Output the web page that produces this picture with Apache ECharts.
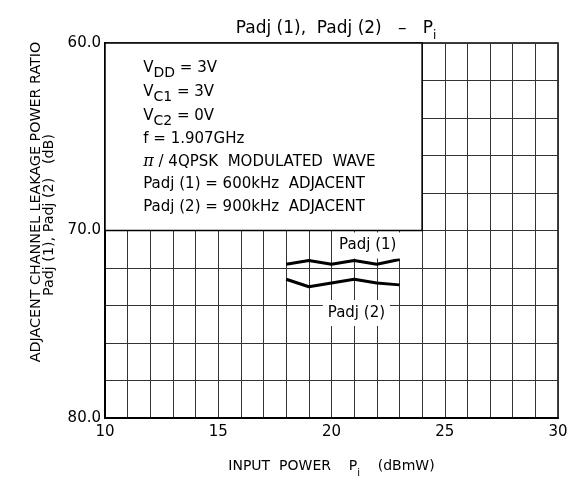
<!DOCTYPE html>
<html>
<head>
<meta charset="utf-8">
<script src="https://cdn.jsdelivr.net/npm/echarts@6/dist/echarts.min.js"></script>
<style>
  html, body { margin: 0; padding: 0; background: #fff; }
  #chart { width: 571px; height: 479px; }
</style>
</head>
<body>
<div id="chart"></div>
<script>
// input power Pi (dBmW)
const inputPower = [18, 19, 20, 21, 22, 23];
// adjacent channel leakage power ratio (dB)
const padj1 = [71.8, 71.6, 71.8, 71.6, 71.8, 71.55];
const padj2 = [72.6, 73.0, 72.8, 72.6, 72.8, 72.9];
// curve labels [x, y, text]
const curveLabels = [
  [21.6, 70.8, 'Padj (1)'],
  [21.1, 74.4, 'Padj (2)']
];
// condition box corners
const boxFrom = [10, 60];
const boxTo = [24, 70];

const font = 'DejaVu Sans';
const chart = echarts.init(document.getElementById('chart'));

const boxText = [
  '{v|V}{s|DD}{v| = 3V}',
  '{v|V}{s|C1}{v| = 3V}',
  '{v|V}{s|C2}{v| = 0V}',
  '{v|f = 1.907GHz}',
  '{pi|π}{v| / 4QPSK  MODULATED  WAVE}',
  '{v|Padj (1) = 600kHz  ADJACENT}',
  '{v|Padj (2) = 900kHz  ADJACENT}'
].join('\n');

const gridLine = { color: '#333', width: 1 };

chart.setOption({
  animation: false,
  textStyle: { fontFamily: font },
  title: {
    text: '{t|Padj (1),  Padj (2)   –   P}{ts|i}',
    left: 331,
    textAlign: 'center',
    top: 11,
    textStyle: {
      fontWeight: 'normal',
      rich: {
        t: { fontFamily: font, fontSize: 17, color: '#000', lineHeight: 24, verticalAlign: 'middle' },
        ts: { fontFamily: font, fontSize: 12, color: '#000', lineHeight: 26, verticalAlign: 'bottom' }
      }
    }
  },
  graphic: [
    {
      type: 'text', x: 36, y: 202, rotation: Math.PI / 2,
      style: { text: 'ADJACENT CHANNEL LEAKAGE POWER RATIO', font: '14.3px "DejaVu Sans"', fill: '#000', align: 'center', verticalAlign: 'middle' }
    },
    {
      type: 'text', x: 49, y: 215, rotation: Math.PI / 2,
      style: { text: 'Padj (1), Padj (2)   (dB)', font: '14.3px "DejaVu Sans"', fill: '#000', align: 'center', verticalAlign: 'middle' }
    }
  ],
  grid: {
    left: 105, right: 13, top: 43, bottom: 61,
    outerBoundsMode: 'none',
    show: true, borderColor: '#000', borderWidth: 1.5, backgroundColor: '#fff'
  },
  xAxis: {
    type: 'value',
    min: 10, max: 30, interval: 5,
    name: '{n|INPUT  POWER    P}{ns|i}{n|    (dBmW)}',
    nameLocation: 'middle',
    nameGap: 36,
    nameTextStyle: {
      rich: {
        n: { fontFamily: font, fontSize: 14, color: '#000', lineHeight: 22, verticalAlign: 'middle' },
        ns: { fontFamily: font, fontSize: 10, color: '#000', lineHeight: 24, verticalAlign: 'bottom' }
      }
    },
    axisLine: { show: true, lineStyle: { color: '#000', width: 2 } },
    axisTick: { show: false },
    axisLabel: { color: '#000', fontSize: 15, margin: 7 },
    splitLine: { show: true, lineStyle: gridLine },
    minorTick: { show: false, splitNumber: 5 },
    minorSplitLine: { show: true, lineStyle: gridLine }
  },
  yAxis: {
    type: 'value',
    inverse: true,
    min: 60, max: 80, interval: 10,
    axisLine: { show: true, lineStyle: { color: '#000', width: 2 } },
    axisTick: { show: false },
    axisLabel: { color: '#000', fontSize: 15, margin: 4, formatter: v => v.toFixed(1) },
    splitLine: { show: true, lineStyle: gridLine },
    minorTick: { show: false, splitNumber: 5 },
    minorSplitLine: { show: true, lineStyle: gridLine }
  },
  series: [
    {
      name: 'box',
      type: 'line',
      data: [],
      z: 3,
      silent: true,
      markArea: {
        silent: true,
        itemStyle: { color: '#fff', opacity: 1, borderColor: '#000', borderWidth: 1.5 },
        label: {
          show: true,
          position: 'insideTopLeft',
          distance: 0,
          padding: [14, 0, 0, 39],
          formatter: boxText,
          rich: {
            v: { fontFamily: font, fontSize: 15, color: '#000', lineHeight: 22.5, verticalAlign: 'middle' },
            s: { fontFamily: font, fontSize: 14, color: '#000', lineHeight: 24, verticalAlign: 'bottom' },
            pi: { fontFamily: 'DejaVu Serif', fontStyle: 'italic', fontSize: 16, color: '#000', lineHeight: 22.5, verticalAlign: 'middle' }
          }
        },
        data: [[{ coord: boxFrom }, { coord: boxTo }]]
      }
    },
    {
      name: 'Padj (1)',
      type: 'line',
      z: 5,
      symbol: 'none',
      data: inputPower.map((x, i) => [x, padj1[i]]),
      lineStyle: { color: '#000', width: 3 }
    },
    {
      name: 'Padj (2)',
      type: 'line',
      z: 5,
      symbol: 'none',
      data: inputPower.map((x, i) => [x, padj2[i]]),
      lineStyle: { color: '#000', width: 3 }
    },
    {
      name: 'labels',
      type: 'scatter',
      z: 6,
      silent: true,
      symbolSize: 1,
      itemStyle: { color: '#fff' },
      data: curveLabels,
      label: {
        show: true,
        position: 'inside',
        formatter: p => p.data[2],
        color: '#000',
        opacity: 1,
        textBorderWidth: 0,
        fontSize: 15,
        backgroundColor: '#fff',
        padding: [6, 5, 5, 5]
      }
    }
  ]
});
</script>
</body>
</html>
